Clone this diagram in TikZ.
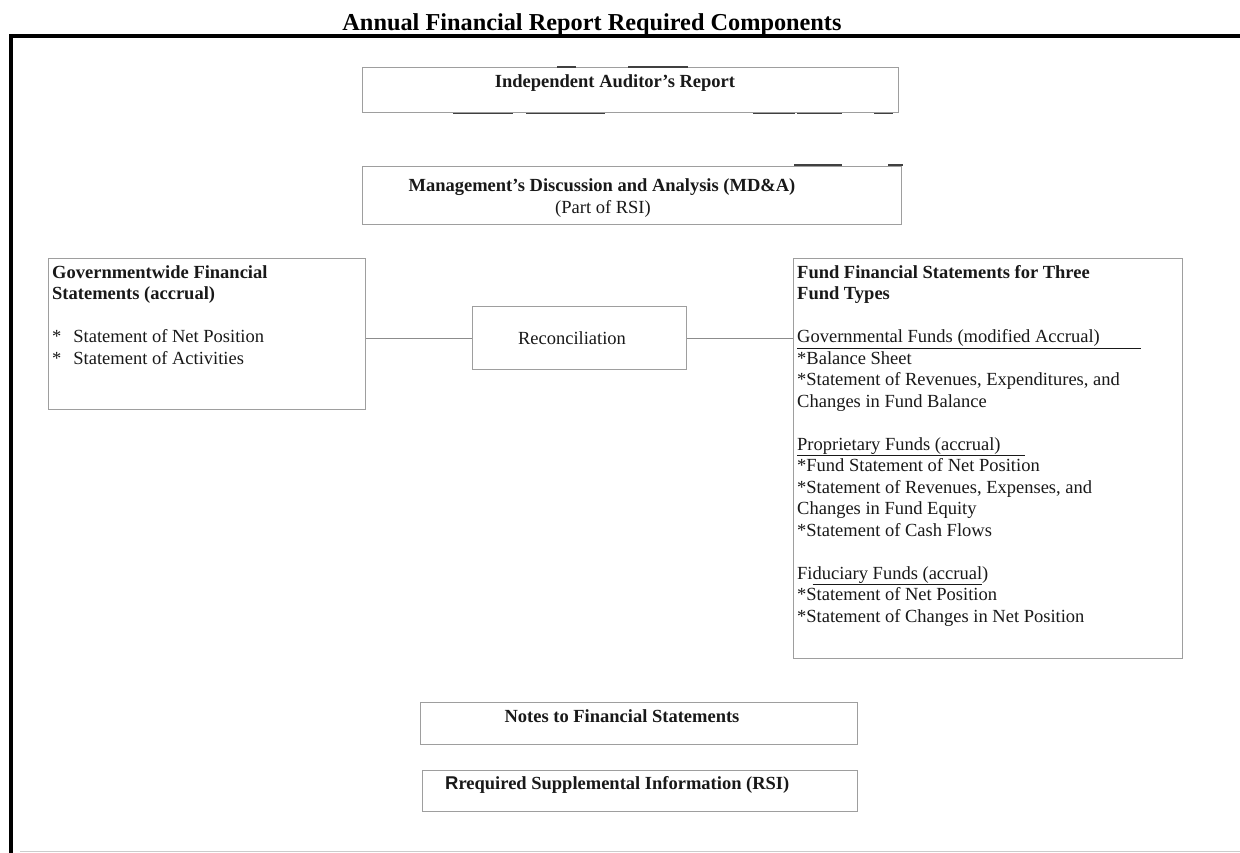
\documentclass[tikz,border=0pt]{standalone}
\usepackage{fontspec}
\setmainfont{Liberation Serif}
\newfontfamily\sansR{Liberation Sans}
\begin{document}
\begin{tikzpicture}[x=1pt,y=-1pt,
  box/.style={draw=black!38,line width=1.4pt,inner sep=0pt,anchor=north west},
  txt/.style={inner sep=0pt,font=\fontsize{18.5}{21.5}\selectfont,text=black!90},
  link/.style={draw=black!45,line width=1.1pt},
  scar/.style={draw=black!75,line width=1.4pt}]
\useasboundingbox (0,0) rectangle (1240,853);
\fill[white] (0,0) rectangle (1240,853);
% outer frame
\coordinate (ftl) at (11,36);
\coordinate (ftr) at (1240,36);
\coordinate (fbl) at (11,853);
\draw[black,line width=3.2pt] (ftr) -- (ftl) -- (fbl);
\coordinate (bl) at (20,851);
\coordinate (br) at (1240,851);
\draw[black!20,line width=1pt] (bl) -- (br);
% title
\node[inner sep=0pt,anchor=base,font=\fontsize{24.3}{28}\selectfont\bfseries] (title) at (592,31) {Annual Financial Report Required Components};
% boxes
\node[box,minimum width=536pt,minimum height=45pt] (aud) at (362,67) {};
\node[txt,anchor=base,font=\fontsize{18.5}{21.5}\selectfont\bfseries] (audt) at (615,88) {Independent Auditor's Report};
\node[box,minimum width=539pt,minimum height=58pt] (mda) at (362,166) {};
\node[txt,anchor=base,font=\fontsize{18.5}{21.5}\selectfont\bfseries] (mdat) at (602,192) {Management's Discussion and Analysis (MD\&A)};
\node[txt,anchor=base] (mdat2) at (603,214) {(Part of RSI)};
\node[box,minimum width=317pt,minimum height=151pt] (gov) at (48,258) {};
\node[txt,anchor=north west,align=left] (govt) at (52,265) {\textbf{Governmentwide Financial}\\
\textbf{Statements (accrual)}\\[21.5pt]
*\hspace{12pt}Statement of Net Position\\
*\hspace{12pt}Statement of Activities};
\node[box,minimum width=214pt,minimum height=63pt] (rec) at (472,306) {};
\node[txt,anchor=base] (rect) at (572,344) {Reconciliation};
\node[box,minimum width=389pt,minimum height=400pt] (fund) at (793,258) {};
\node[txt,anchor=north west,align=left] (fundt) at (797,265) {\textbf{Fund Financial Statements for Three}\\
\textbf{Fund Types}\\[21.5pt]
\underline{Governmental Funds (modified Accrual)\hspace*{41pt}}\\
*Balance Sheet\\
*Statement of Revenues, Expenditures, and\\
Changes in Fund Balance\\[21.5pt]
\underline{Proprietary Funds (accrual)\hspace*{24pt}}\\
*Fund Statement of Net Position\\
*Statement of Revenues, Expenses, and\\
Changes in Fund Equity\\
*Statement of Cash Flows\\[21.5pt]
Fi\underline{duciary Funds (accrual})\\
*Statement of Net Position\\
*Statement of Changes in Net Position};
\node[box,minimum width=437pt,minimum height=42pt] (notes) at (420,702) {};
\node[txt,anchor=base,font=\fontsize{18.5}{21.5}\selectfont\bfseries] (notest) at (622,722) {Notes to Financial Statements};
\node[box,minimum width=435pt,minimum height=41pt] (rsi) at (422,770) {};
\node[txt,anchor=base west,font=\fontsize{18.5}{21.5}\selectfont\bfseries] (rsit) at (445,789) {{\sansR R}required Supplemental Information (RSI)};
% connectors
\draw[link] (rec.west -| gov.east) -- (rec.west);
\draw[link] (rec.east) -- (rec.east -| fund.west);
% scan marks on box edges
\draw[scar] ([xshift=195pt]aud.north west) -- ++(19,0);
\draw[scar] ([xshift=266pt]aud.north west) -- ++(60,0);
\draw[scar] ([xshift=91pt]aud.south west) -- ++(60,0);
\draw[scar] ([xshift=164pt]aud.south west) -- ++(79,0);
\draw[scar] ([xshift=391pt]aud.south west) -- ++(42,0);
\draw[scar] ([xshift=435pt]aud.south west) -- ++(45,0);
\draw[scar] ([xshift=512pt]aud.south west) -- ++(19,0);
\draw[scar] ([xshift=432pt,yshift=1pt]mda.north west) -- ++(48,0);
\draw[scar] ([xshift=526pt,yshift=1pt]mda.north west) -- ++(15,0);
\end{tikzpicture}
\end{document}
